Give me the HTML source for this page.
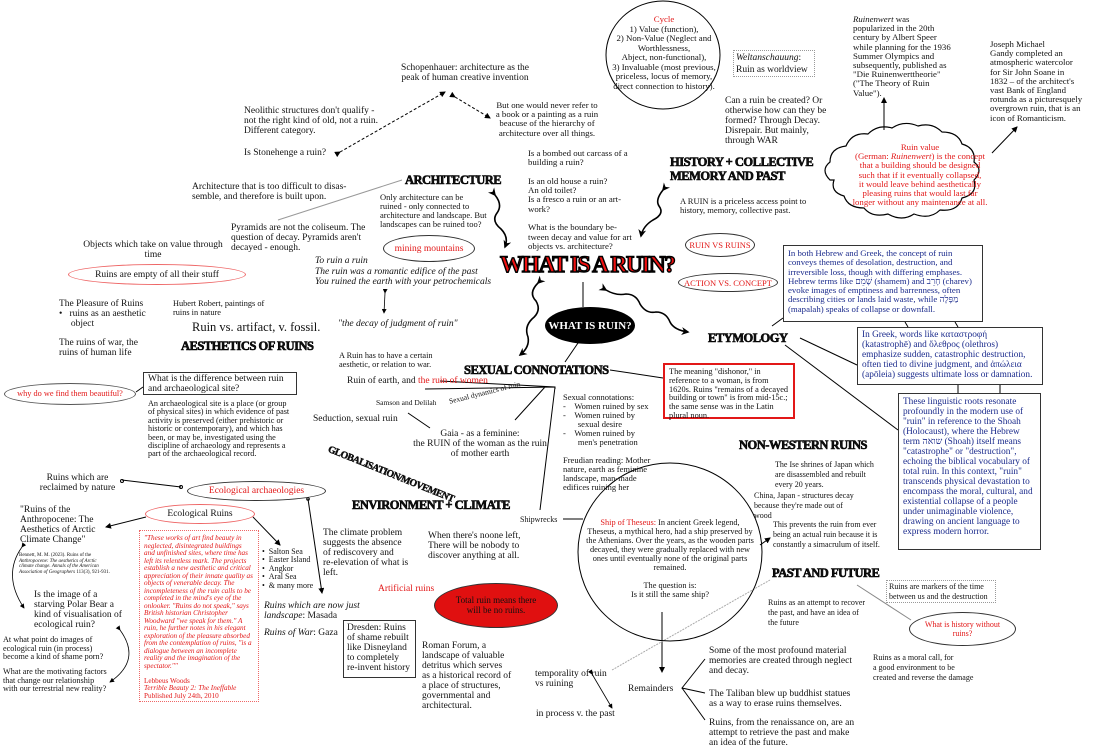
<!DOCTYPE html>
<html><head><meta charset="utf-8"><style>
body{margin:0;width:1100px;height:746px;background:#fff;position:relative;overflow:hidden;font-family:"Liberation Serif",serif;font-size:9.5px;line-height:10px;color:#111}
.t{position:absolute;white-space:nowrap}
.c{text-align:center}
.r{color:#e21818}
.b{color:#1a2a8c}
.h{position:absolute;font-family:"Liberation Serif",serif;font-weight:bold;font-size:12.5px;line-height:14px;letter-spacing:-0.5px;white-space:nowrap;-webkit-text-stroke:0.6px #000}
.box{position:absolute;border:1px solid #333;background:#fff;box-sizing:border-box}
.ell{position:absolute;border-radius:50%;box-sizing:border-box;display:flex;align-items:center;justify-content:center;text-align:center}
i{font-style:italic}
svg{position:absolute;left:0;top:0}
</style></head><body>
<svg width="1100" height="746" viewBox="0 0 1100 746">
<defs><marker id="a" markerWidth="6" markerHeight="6" refX="5" refY="3" orient="auto"><path d="M0,0L6,3L0,6z" fill="#000"/></marker>
<marker id="A" markerWidth="5" markerHeight="5" refX="4" refY="2.5" orient="auto"><path d="M0,0L5,2.5L0,5L1.5,2.5z" fill="#000"/></marker></defs>
<g stroke="#000" fill="none" stroke-width="1">
<path d="M340,152 L445,92" stroke-dasharray="3,2" marker-end="url(#a)" marker-start="url(#a)"/>
<path d="M455,97 L490,118" stroke-dasharray="3,2" marker-end="url(#a)" marker-start="url(#a)"/>
<path d="M278,220 L402,180" stroke="#999"/>
<path d="M385,293 L384,313" marker-start="url(#a)" marker-end="url(#a)" stroke-width=".8"/>
<path d="M495,195 q8,10 2,18 q-6,8 4,16 q8,8 4,18" stroke-width="1.6" marker-start="url(#A)" marker-end="url(#A)"/>
<path d="M663,190 q-8,10 -4,16 q6,8 -6,14 q-10,6 -12,16" stroke-width="1.6" marker-start="url(#A)" marker-end="url(#A)"/>
<path d="M606,290 q10,6 20,4 q10,0 14,10 q6,10 16,8 q10,0 14,10 q4,8 18,10" stroke-width="1.6" marker-start="url(#A)" marker-end="url(#A)"/>
<path d="M538,283 q-10,10 -2,18 q6,10 -4,18 q-8,8 -4,18 q2,10 -8,18" stroke-width="1.6" marker-start="url(#A)" marker-end="url(#A)"/>
<path d="M583,282 L583,307"/>
<path d="M578,343 L565,362"/>
<path d="M610,370 L663,378"/>
<path d="M772,326 L783,318"/>
<path d="M800,338 L857,365"/>
<path d="M785,345 L898,430"/>
<path d="M905,322 L908,327 M955,322 L958,327 M958,385 L958,393 M1000,385 L1000,393"/>
<path d="M884,130 L884,98" marker-end="url(#a)"/>
<path d="M992,153 L1017,127" marker-end="url(#a)"/>
<path d="M136,392 L143,387"/>
<path d="M440,381 L555,387 L555,389 M425,389 L555,387 M545,387 L515,420 M408,413 L430,428 M555,387 L540,510"/>
<path d="M122,480 L181,487" /><circle cx="122" cy="481" r="1.5"/><circle cx="181" cy="487" r="1.5"/>
<path d="M146,517 L106,527" marker-end="url(#a)"/>
<path d="M253,517 L280,545" marker-end="url(#a)"/>
<path d="M308,499 L322,593" marker-end="url(#a)"/><circle cx="308" cy="499" r="1.3"/>
<path d="M22,547 Q2,575 24,608" marker-start="url(#a)" marker-end="url(#a)" stroke-width=".8"/>
<path d="M120,630 Q142,660 110,682" marker-start="url(#a)" marker-end="url(#a)" stroke-width=".8"/>
<path d="M563,519 L583,519"/>
<path d="M662,612 L662,672" marker-end="url(#a)"/>
<path d="M705,659 L682,688 L705,693 M682,688 L705,720"/>
<path d="M592,674 L612,708" marker-start="url(#a)" marker-end="url(#a)" stroke-width=".8"/>
<path d="M612,670 L770,580" stroke="#aaa" stroke-dasharray="2,1"/>
<path d="M760,545 L770,538" marker-end="url(#a)"/>
<path d="M857,585 L911,620" stroke="#888"/>
<ellipse cx="663" cy="55" rx="57" ry="54"/>
<ellipse cx="670" cy="552" rx="92" ry="89"/>
<path d="M830,180 q-10,-10 0,-18 q0,-14 16,-16 q6,-14 22,-12 q10,-10 24,-6 q12,-8 26,-2 q14,-4 24,6 q16,0 20,12 q14,4 12,18 q10,8 0,18 q4,14 -12,18 q-4,14 -22,12 q-10,10 -26,4 q-12,8 -26,0 q-16,4 -24,-6 q-16,0 -20,-12 q-14,-4 -10,-16 z" stroke-width="1.2"/>
</g>
</svg>

<div class="t c" style="left:612px;top:15px;width:104px;line-height:9.5px;font-size:8.8px"><span class="r">Cycle</span><br>1) Value (function),<br>2) Non-Value (Neglect and<br>Worthlessness,<br>Abject, non-functional),<br>3) Invaluable (most previous,<br>priceless, locus of memory,<br>direct connection to history).</div>
<div class="t" style="left:733px;top:50px;width:82px;height:27px;border:1px dotted #999;padding:1px 2px;box-sizing:border-box;line-height:12px"><i>Weltanschauung</i>:<br>Ruin as worldview</div>
<div class="t" style="left:853px;top:15px;line-height:9.2px;font-size:8.8px"><i>Ruinenwert</i> was<br>popularized in the 20th<br>century by Albert Speer<br>while planning for the 1936<br>Summer Olympics and<br>subsequently, published as<br>"Die Ruinenwerttheorie"<br>("The Theory of Ruin<br>Value").</div>
<div class="t" style="left:990px;top:40px;line-height:9.2px;font-size:8.8px">Joseph Michael<br>Gandy completed an<br>atmospheric watercolor<br>for Sir John Soane in<br>1832 – of the architect's<br>vast Bank of England<br>rotunda as a picturesquely<br>overgrown ruin, that is an<br>icon of Romanticism.</div>
<div class="t c r" style="left:840px;top:143px;width:160px;line-height:9.2px;font-size:8.8px">Ruin value<br>(German: <i>Ruinenwert</i>) is the concept<br>that a building should be designed<br>such that if it eventually collapsed,<br>it would leave behind aesthetically<br>pleasing ruins that would last far<br>longer without any maintenance at all.</div>

<div class="t c" style="left:395px;top:63px;width:140px">Schopenhauer: architecture as the<br>peak of human creative invention</div>
<div class="t" style="left:244px;top:106px">Neolithic structures don't qualify -<br>not the right kind of old, not a ruin.<br>Different category.</div>
<div class="t" style="left:244px;top:148px">Is Stonehenge a ruin?</div>
<div class="t c" style="left:492px;top:101px;width:110px;line-height:9.2px;font-size:8.8px">But one would never refer to<br>a book or a painting as a ruin<br>beacuse of the hierarchy of<br>architecture over all things.</div>
<div class="t" style="left:725px;top:96px">Can a ruin be created? Or<br>otherwise how can they be<br>formed? Through Decay.<br>Disrepair. But mainly,<br>through WAR</div>
<div class="t" style="left:528px;top:149px;line-height:9.3px;font-size:8.8px">Is a bombed out carcass of a<br>building a ruin?<br><br>Is an old house a ruin?<br>An old toilet?<br>Is a fresco a ruin or an art-<br>work?<br><br>What is the boundary be-<br>tween decay and value for art<br>objects vs. architecture?</div>
<div class="h" style="left:670px;top:155px">HISTORY + COLLECTIVE<br>MEMORY AND PAST</div>
<div class="t" style="left:680px;top:197px;font-size:8.5px;line-height:9px">A RUIN is a priceless access point to<br>history, memory, collective past.</div>
<div class="h" style="left:405px;top:173px">ARCHITECTURE</div>
<div class="t" style="left:380px;top:193px;font-size:8.5px;line-height:9px">Only architecture can be<br>ruined - only connected to<br>architecture and landscape. But<br>landscapes can be ruined too?</div>
<div class="t" style="left:192px;top:182px">Architecture that is too difficult to disas-<br>semble, and therefore is built upon.</div>
<div class="t" style="left:231px;top:223px">Pyramids are not the coliseum. The<br>question of decay. Pyramids aren't<br>decayed - enough.</div>
<div class="t c" style="left:78px;top:240px;width:150px">Objects which take on value through<br>time</div>
<div class="ell" style="left:68px;top:264px;width:178px;height:21px;border:1px solid #e66">Ruins are empty of all their stuff</div>
<div class="ell r" style="left:383px;top:235px;width:92px;height:27px;border:1px solid #333">mining mountains</div>
<div class="t" style="left:315px;top:256px;line-height:10.5px"><i>To ruin a ruin<br>The ruin was a romantic edifice of the past<br>You ruined the earth with your petrochemicals</i></div>
<div class="t" style="left:338px;top:319px"><i>"the decay of judgment of ruin"</i></div>
<div class="t" style="left:500px;top:251px;font-family:'Liberation Serif',serif;font-weight:bold;font-size:23.5px;line-height:28px;color:#ee1111;-webkit-text-stroke:1.4px #000;letter-spacing:-1.6px">WHAT IS A RUIN?</div>
<div class="ell r" style="left:685px;top:233px;width:70px;height:24px;border:1px solid #333;font-size:8.5px">RUIN VS RUINS</div>
<div class="ell r" style="left:678px;top:273px;width:100px;height:19px;border:1px solid #333;font-size:8.5px">ACTION VS. CONCEPT</div>
<div class="ell" style="left:545px;top:307px;width:90px;height:37px;background:#000;color:#fff;font-weight:bold;font-size:11px">WHAT IS RUIN?</div>
<div class="h" style="left:708px;top:331px">ETYMOLOGY</div>
<div class="h" style="left:464px;top:363px">SEXUAL CONNOTATIONS</div>
<div class="box b" style="left:783px;top:245px;width:200px;height:77px;padding:3px 4px;font-size:8.8px;line-height:9.3px;white-space:normal">In both Hebrew and Greek, the concept of ruin conveys themes of desolation, destruction, and irreversible loss, though with differing emphases. Hebrew terms like שָׁמֵם (shamem) and חָרֵב (charev) evoke images of emptiness and barrenness, often describing cities or lands laid waste, while מַפָּלָה (mapalah) speaks of collapse or downfall.</div>
<div class="box b" style="left:857px;top:327px;width:186px;height:58px;padding:2px 4px;font-size:9.3px;line-height:10px">In Greek, words like καταστροφή (katastrophē) and ὄλεθρος (olethros) emphasize sudden, catastrophic destruction, often tied to divine judgment, and ἀπώλεια (apōleia) suggests ultimate loss or damnation.</div>
<div class="box b" style="left:898px;top:393px;width:143px;height:157px;padding:3px 4px;font-size:9.3px;line-height:10px">These linguistic roots resonate profoundly in the modern use of "ruin" in reference to the Shoah (Holocaust), where the Hebrew term שואה (Shoah) itself means "catastrophe" or "destruction", echoing the biblical vocabulary of total ruin. In this context, "ruin" transcends physical devastation to encompass the moral, cultural, and existential collapse of a people under unimaginable violence, drawing on ancient language to express modern horror.</div>
<div class="box" style="left:663px;top:363px;width:132px;height:56px;border:2px solid #e21818;padding:3px 4px;font-size:8.3px;line-height:8.8px">The meaning "dishonor," in reference to a woman, is from 1620s. Ruins "remains of a decayed building or town" is from mid-15c.; the same sense was in the Latin plural noun.</div>

<div class="t" style="left:59px;top:299px">The Pleasure of Ruins<br>•&nbsp;&nbsp;&nbsp;ruins as an aesthetic<br>&nbsp;&nbsp;&nbsp;&nbsp;&nbsp;object</div>
<div class="t" style="left:59px;top:338px">The ruins of war, the<br>ruins of human life</div>
<div class="t" style="left:173px;top:300px;font-size:8.3px;line-height:8.5px">Hubert Robert, paintings of<br>ruins in nature</div>
<div class="t" style="left:192px;top:320px;font-size:12.5px;line-height:14px">Ruin vs. artifact, v. fossil.</div>
<div class="h" style="left:181px;top:339px">AESTHETICS OF RUINS</div>
<div class="t" style="left:339px;top:352px;font-size:8.3px;line-height:8.5px">A Ruin has to have a certain<br>aesthetic, or relation to war.</div>
<div class="t" style="left:347px;top:376px">Ruin of earth, and <span class="r">the ruin of women</span></div>
<div class="t" style="left:376px;top:398px;font-size:7.5px">Samson and Delilah</div>
<div class="t" style="left:448px;top:397px;font-size:7.5px;transform:rotate(-14deg);transform-origin:left top">Sexual dynamics of ruin</div>
<div class="t" style="left:313px;top:414px">Seduction, sexual ruin</div>
<div class="t c" style="left:410px;top:429px;width:140px">Gaia - as a feminine:<br>the RUIN of the woman as the ruin<br>of mother earth</div>
<div class="t" style="left:330px;top:445px;font-weight:bold;font-size:10px;letter-spacing:-0.6px;transform:rotate(22deg);transform-origin:left top;-webkit-text-stroke:.4px #000">GLOBALISATION/MOVEMENT</div>
<div class="box" style="left:143px;top:372px;width:154px;height:23px;padding:1px 4px;line-height:10px">What is the difference between ruin<br>and archaeological site?</div>
<div class="ell r" style="left:4px;top:383px;width:132px;height:22px;border:1px solid #555;font-size:8.3px">why do we find them beautiful?</div>
<div class="t" style="left:148px;top:400px;font-size:8.2px;line-height:8.4px">An archaeological site is a place (or group<br>of physical sites) in which evidence of past<br>activity is preserved (either prehistoric or<br>historic or contemporary), and which has<br>been, or may be, investigated using the<br>discipline of archaeology and represents a<br>part of the archaeological record.</div>
<div class="t" style="left:563px;top:393px;font-size:8.5px;line-height:9px">Sexual connotations:<br>-&nbsp;&nbsp;&nbsp;&nbsp;Women ruined by sex<br>-&nbsp;&nbsp;&nbsp;&nbsp;Women ruined by<br>&nbsp;&nbsp;&nbsp;&nbsp;&nbsp;&nbsp;&nbsp;sexual desire<br>-&nbsp;&nbsp;&nbsp;&nbsp;Women ruined by<br>&nbsp;&nbsp;&nbsp;&nbsp;&nbsp;&nbsp;&nbsp;men's penetration</div>
<div class="t" style="left:563px;top:456px;font-size:8.5px;line-height:9px">Freudian reading: Mother<br>nature, earth as feminine<br>landscape, man-made<br>edifices ruining her</div>
<div class="h" style="left:739px;top:438px">NON-WESTERN RUINS</div>
<div class="t" style="left:775px;top:460px;font-size:8px;line-height:10px">The Ise shrines of Japan which<br>are disassembled and rebuilt<br>every 20 years.</div>
<div class="t" style="left:754px;top:491px;font-size:8px;line-height:10px">China, Japan - structures decay<br>because they're made out of<br>wood</div>
<div class="t" style="left:773px;top:520px;font-size:8px;line-height:10px">This prevents the ruin from ever<br>being an actual ruin because it is<br>constantly a simacrulum of itself.</div>
<div class="t c" style="left:30px;top:473px;width:95px">Ruins which are<br>reclaimed by nature</div>
<div class="ell r" style="left:187px;top:481px;width:139px;height:20px;border:1px solid #333">Ecological archaeologies</div>
<div class="h" style="left:352px;top:498px">ENVIRONMENT + CLIMATE</div>
<div class="t" style="left:520px;top:515px;font-size:8px">Shipwrecks</div>
<div class="t c" style="left:585px;top:518px;width:170px;white-space:normal;font-size:8.3px;line-height:9px"><span class="r">Ship of Theseus:</span> In ancient Greek legend, Theseus, a mythical hero, had a ship preserved by the Athenians. Over the years, as the wooden parts decayed, they were gradually replaced with new ones until eventually none of the original parts remained.<br><br>The question is:<br>Is it still the same ship?</div>
<div class="t" style="left:20px;top:505px">"Ruins of the<br>Anthropocene: The<br>Aesthetics of Arctic<br>Climate Change"</div>
<div class="ell" style="left:145px;top:504px;width:110px;height:20px;border:1px solid #e66">Ecological Ruins</div>
<div class="box r" style="left:139px;top:530px;width:120px;height:172px;border:1px dotted #e66;padding:4px 4px;font-size:7.2px;line-height:7.5px;white-space:normal"><i>"These works of art find beauty in neglected, disintegrated buildings and unfinished sites, where time has left its relentless mark. The projects establish a new aesthetic and critical appreciation of their innate quality as objects of venerable decay. The incompleteness of the ruin calls to be completed in the mind's eye of the onlooker. "Ruins do not speak," says British historian Christopher Woodward "we speak for them." A ruin, he further notes in his elegant exploration of the pleasure absorbed from the contemplation of ruins, "is a dialogue between an incomplete reality and the imagination of the spectator.""</i><br><br>Lebbeus Woods<br><i>Terrible Beauty 2: The Ineffable</i><br>Published July 24th, 2010</div>
<div class="t" style="left:262px;top:548px;font-size:8px;line-height:8.4px">•&nbsp;&nbsp;Salton Sea<br>•&nbsp;&nbsp;Easter Island<br>•&nbsp;&nbsp;Angkor<br>•&nbsp;&nbsp;Aral Sea<br>•&nbsp;&nbsp;&amp; many more</div>
<div class="t" style="left:323px;top:528px">The climate problem<br>suggests the absence<br>of rediscovery and<br>re-elevation of what is<br>left.</div>
<div class="t" style="left:428px;top:531px">When there's noone left,<br>There will be nobody to<br>discover anything at all.</div>
<div class="t" style="left:19px;top:553px;font-size:5px;line-height:5.5px">Bennett, M. M. (2023). Ruins of the<br><i>Anthropocene: The aesthetics of Arctic<br>climate change. Annals of the American<br>Association of Geographers</i> 113(3), 921-931.</div>
<div class="t" style="left:34px;top:590px">Is the image of a<br>starving Polar Bear a<br>kind of visualisation of<br>ecological ruin?</div>
<div class="t" style="left:3px;top:636px;font-size:8.2px;line-height:8.5px">At what point do images of<br>ecological ruin (in process)<br>become a kind of shame porn?</div>
<div class="t" style="left:3px;top:668px;font-size:8.2px;line-height:8.5px">What are the motivating factors<br>that change our relationship<br>with our terrestrial new reality?</div>
<div class="t" style="left:264px;top:601px"><i>Ruins which are now just<br>landscape</i>: Masada</div>
<div class="t" style="left:264px;top:628px"><i>Ruins of War</i>: Gaza</div>
<div class="t r" style="left:378px;top:584px">Artificial ruins</div>
<div class="ell" style="left:434px;top:583px;width:124px;height:45px;background:#e01010;border:1px solid #333;font-size:9px;line-height:9.5px">Total ruin means there<br>will be no ruins.</div>
<div class="box" style="left:343px;top:620px;width:73px;height:58px;padding:2px 3px;line-height:10px">Dresden: Ruins<br>of shame rebuilt<br>like Disneyland<br>to completely<br>re-invent history</div>
<div class="t" style="left:422px;top:641px">Roman Forum, a<br>landscape of valuable<br>detritus which serves<br>as a historical record of<br>a place of structures,<br>governmental and<br>architectural.</div>
<div class="t" style="left:535px;top:669px">temporality of ruin<br>vs ruining</div>
<div class="t" style="left:536px;top:709px">in process v. the past</div>
<div class="t" style="left:628px;top:684px">Remainders</div>
<div class="h" style="left:772px;top:566px">PAST AND FUTURE</div>
<div class="t" style="left:886px;top:580px;width:110px;height:23px;border:1px dotted #999;box-sizing:border-box;padding:1px 2px;font-size:8px;line-height:9.5px">Ruins are markers of the time<br>between us and the destruction</div>
<div class="t" style="left:768px;top:598px;font-size:8px;line-height:10px">Ruins as an attempt to recover<br>the past, and have an idea of<br>the future</div>
<div class="ell r" style="left:909px;top:612px;width:107px;height:34px;border:1px solid #333;font-size:8px;line-height:9.5px">What is history without<br>ruins?</div>
<div class="t" style="left:873px;top:653px;font-size:8px;line-height:10px">Ruins as a moral call, for<br>a good environment to be<br>created and reverse the damage</div>
<div class="t" style="left:709px;top:646px">Some of the most profound material<br>memories are created through neglect<br>and decay.</div>
<div class="t" style="left:709px;top:689px">The Taliban blew up buddhist statues<br>as a way to erase ruins themselves.</div>
<div class="t" style="left:709px;top:718px">Ruins, from the renaissance on, are an<br>attempt to retrieve the past and make<br>an idea of the future.</div>
</body></html>
